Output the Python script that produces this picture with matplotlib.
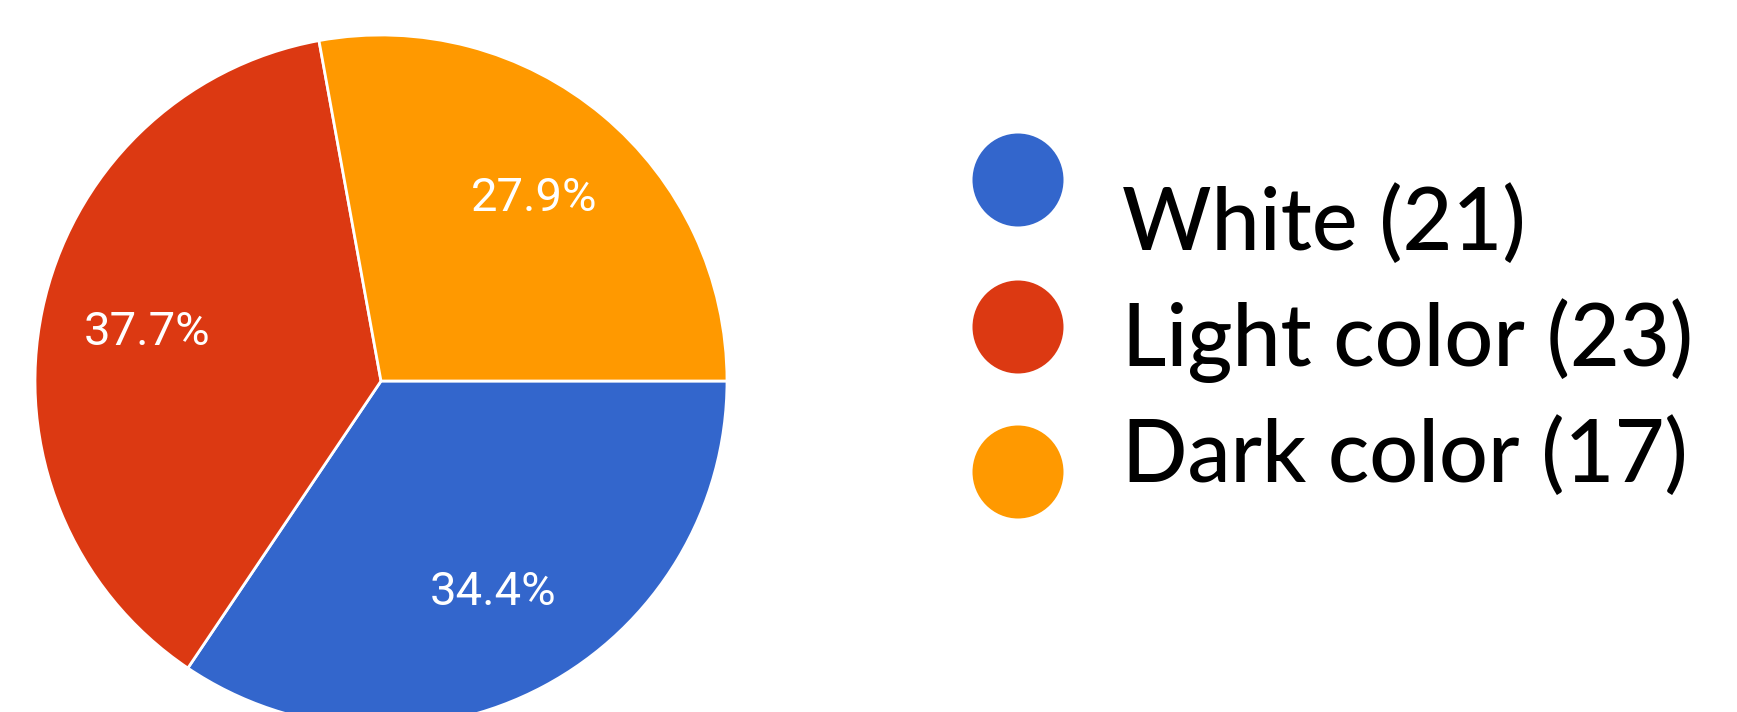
import matplotlib
matplotlib.use("Agg")
import matplotlib.pyplot as plt
from matplotlib.patches import Ellipse

categories = ["White", "Light color", "Dark color"]
counts = [21, 23, 17]
colors = ["#3366cc", "#dc3912", "#ff9900"]

W, H = 1737, 712
fig = plt.figure(figsize=(W / 100, H / 100), dpi=100)

# pie axes: centre (381, 381) px from top-left, radius 346 px
cx, cy, r = 381, 381, 346
ax = fig.add_axes([(cx - r) / W, (H - cy - r) / H, 2 * r / W, 2 * r / H])
wedges, texts, autotexts = ax.pie(
    counts, colors=colors, startangle=0, counterclock=False,
    autopct="%1.1f%%", pctdistance=0.69,
    wedgeprops=dict(edgecolor="white", linewidth=2),
    textprops=dict(color="white", fontsize=34, family="Roboto"))
ax.set_xlim(-1, 1)
ax.set_ylim(-1, 1)
ax.set_aspect("equal")
ax.axis("off")

# legend
lax = fig.add_axes([0, 0, 1, 1])
lax.set_xlim(0, W)
lax.set_ylim(H, 0)
lax.axis("off")
marker_y = [180, 327, 472]
text_y = [250, 366, 482]
for name, n, c, my, ty in zip(categories, counts, colors, marker_y, text_y):
    lax.add_patch(Ellipse((1018, my), 91, 93, color=c, lw=0))
    lax.text(1122, ty, f"{name} ({n})", fontsize=62, family="Lato",
             fontweight="medium", va="baseline", ha="left", color="black")

fig.savefig("out.png", dpi=100)
